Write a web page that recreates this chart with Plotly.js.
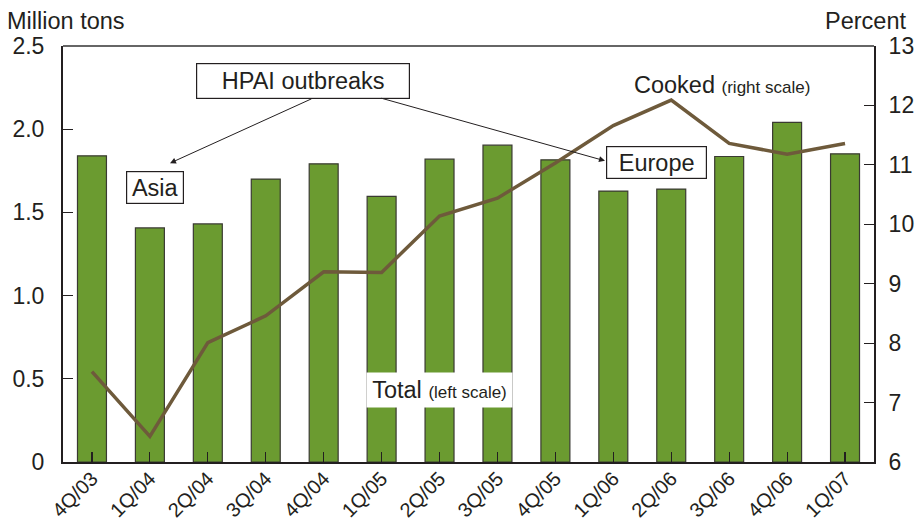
<!DOCTYPE html>
<html>
<head>
<meta charset="utf-8">
<script src="https://cdn.plot.ly/plotly-3.0.1.min.js"></script>
<style>html,body{margin:0;padding:0;background:#fff;}#chart{width:920px;height:524px;}</style>
</head>
<body>
<div id="chart"></div>
<script>
const quarters = ["4Q/03","1Q/04","2Q/04","3Q/04","4Q/04","1Q/05","2Q/05","3Q/05","4Q/05","1Q/06","2Q/06","3Q/06","4Q/06","1Q/07"];
const totalMillionTons = [1.84,1.407,1.431,1.70,1.792,1.596,1.82,1.904,1.816,1.628,1.64,1.836,2.041,1.852];
const cookedPercent = [7.52,6.43,8.01,8.46,9.20,9.19,10.14,10.44,11.03,11.66,12.09,11.36,11.18,11.36];
const leftTicks = [0,0.5,1.0,1.5,2.0,2.5];
const leftTickText = ["0","0.5","1.0","1.5","2.0","2.5"];
const rightTicks = [6,7,8,9,10,11,12,13];

const FONT = "Liberation Sans, Arial, Helvetica, sans-serif";
const INK = "#231f20";

const bars = {
  type: "bar", x: quarters, y: totalMillionTons, yaxis: "y",
  width: 0.5,
  marker: {color: "#6b9b30", line: {color: "#3a3a32", width: 1.2}},
  hoverinfo: "none", showlegend: false
};
const line = {
  type: "scatter", mode: "lines", x: quarters, y: cookedPercent, yaxis: "y2",
  line: {color: "#6e5a3b", width: 3.5},
  hoverinfo: "none", showlegend: false
};

const layout = {
  width: 920, height: 524,
  margin: {l: 63, r: 46, t: 46, b: 62},
  paper_bgcolor: "#fff", plot_bgcolor: "#fff",
  font: {family: FONT, color: INK, size: 20},
  bargap: 0.5,
  xaxis: {
    type: "category", range: [-0.5, 13.5],
    showline: true, linecolor: INK, linewidth: 2,
    ticks: "inside", ticklen: 10, tickwidth: 1.2, tickcolor: INK,
    tickangle: -45, tickfont: {size: 20, family: FONT, color: INK}, ticklabelstandoff: -5,
    showgrid: false, zeroline: false, fixedrange: true
  },
  yaxis: {
    range: [0, 2.5], tickvals: leftTicks, ticktext: leftTickText,
    showline: true, linecolor: INK, linewidth: 2,
    ticks: "inside", ticklen: 10, tickwidth: 1.2, tickcolor: INK,
    tickfont: {size: 23, family: FONT, color: INK}, ticklabelstandoff: 12,
    showgrid: false, zeroline: false, fixedrange: true
  },
  yaxis2: {
    range: [6, 13], tickvals: rightTicks, overlaying: "y", side: "right",
    showline: true, linecolor: INK, linewidth: 2,
    ticks: "inside", ticklen: 10, tickwidth: 1.2, tickcolor: INK,
    tickfont: {size: 23, family: FONT, color: INK}, ticklabelstandoff: 8,
    showgrid: false, zeroline: false, fixedrange: true
  },
  shapes: [
    {type: "line", xref: "paper", yref: "paper", x0: 0, x1: 1, y0: 1, y1: 1,
     line: {color: "#666", width: 2}}
  ],
  annotations: [
    {xref: "paper", yref: "paper", x: -0.072, y: 1.06, xanchor: "left", yanchor: "middle",
     text: "Million tons", showarrow: false, font: {size: 23.5, family: FONT, color: INK}},
    {xref: "paper", yref: "paper", x: 1.042, y: 1.06, xanchor: "right", yanchor: "middle",
     text: "Percent", showarrow: false, font: {size: 23.5, family: FONT, color: INK}},
    {xref: "x", yref: "y", x: 3.64, y: 2.292, text: "HPAI outbreaks", showarrow: false,
     font: {size: 23.5, family: FONT, color: INK}, bgcolor: "#fff", bordercolor: INK, borderwidth: 1.2,
     borderpad: 1, width: 210, height: 32},
    {xref: "x", yref: "y", x: 1.08, y: 1.652, text: "Asia", showarrow: false,
     font: {size: 23.5, family: FONT, color: INK}, bgcolor: "#fff", bordercolor: INK, borderwidth: 1.2,
     borderpad: 1, width: 54, height: 29},
    {xref: "x", yref: "y", x: 9.75, y: 1.802, text: "Europe", showarrow: false,
     font: {size: 23.5, family: FONT, color: INK}, bgcolor: "#fff", bordercolor: INK, borderwidth: 1.2,
     borderpad: 1, width: 97, height: 29},
    {xref: "x", yref: "y", x: 1.347, y: 1.796, ax: 143, ay: -65, axref: "pixel", ayref: "pixel",
     text: "", showarrow: true, arrowhead: 2, arrowsize: 1.2, arrowwidth: 1, arrowcolor: INK},
    {xref: "x", yref: "y", x: 8.856, y: 1.810, ax: -225, ay: -63, axref: "pixel", ayref: "pixel",
     text: "", showarrow: true, arrowhead: 2, arrowsize: 1.2, arrowwidth: 1, arrowcolor: INK},
    {xref: "x", yref: "y2", x: 10.88, y: 12.34, text: 'Cooked <span style="font-size:17px">(right scale)</span>',
     showarrow: false, font: {size: 23.5, family: FONT, color: INK}},
    {xref: "x", yref: "y", x: 6.0, y: 0.431, text: 'Total <span style="font-size:17px">(left scale)</span>',
     showarrow: false, font: {size: 23.5, family: FONT, color: INK}, bgcolor: "#fff", borderpad: 2,
     width: 141, height: 30}
  ]
};

Plotly.newPlot("chart", [bars, line], layout, {staticPlot: true, displayModeBar: false});
</script>
</body>
</html>
